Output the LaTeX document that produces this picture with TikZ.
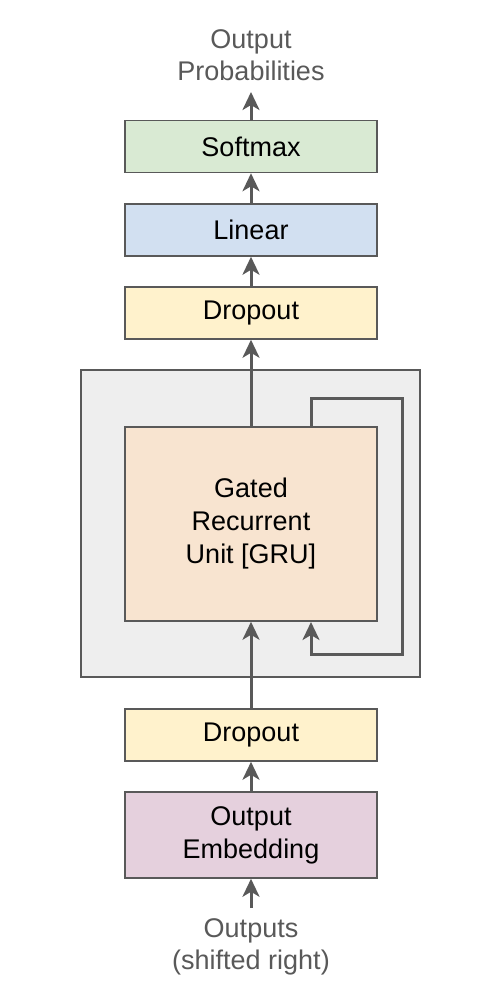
\documentclass[tikz,border=0pt]{standalone}
\usepackage{fontspec}
\setmainfont{Liberation Sans}
\usetikzlibrary{arrows.meta}
\definecolor{ln}{HTML}{595959}
\definecolor{txtg}{HTML}{595959}
\definecolor{cgreen}{HTML}{D9EAD3}
\definecolor{cblue}{HTML}{D2E0F1}
\definecolor{cyellow}{HTML}{FFF2CC}
\definecolor{corange}{HTML}{F8E4D0}
\definecolor{cmag}{HTML}{E5D0DD}
\definecolor{cgrey}{HTML}{EEEEEE}
\tikzset{
  layer/.style={draw=ln, line width=1.5pt, minimum width=252pt, inner sep=0pt, font=\fontsize{27}{33}\selectfont, align=center, text=black},
  lbl/.style={text=txtg, font=\fontsize{27}{32}\selectfont, align=center, inner sep=0pt},
  tip/.style={-{Stealth[length=18pt,width=17pt,inset=5pt]}},
  flow/.style={draw=ln, line width=3pt, tip},
  loop/.style={draw=ln, line width=3pt}
}
\begin{document}
\begin{tikzpicture}[x=1pt,y=-1pt]
\useasboundingbox (0,0) rectangle (500,990);
\node[draw=ln, line width=1.5pt, fill=cgrey, minimum width=339pt, minimum height=307pt, inner sep=0pt] (outer) at (250.5,523.5) {};
\node[lbl] (probs) at (251,55) {Output\\Probabilities};
\node[layer, fill=cgreen, minimum height=52pt] (softmax) at (251,146.5) {Softmax};
\node[layer, fill=cblue, minimum height=52pt] (linear) at (251,230) {Linear};
\node[layer, fill=cyellow, minimum height=52pt] (drop1) at (251,313) {Dropout};
\node[layer, fill=corange, minimum height=194pt] (gru) at (251,524) {Gated\\Recurrent\\Unit [GRU]};
\node[layer, fill=cyellow, minimum height=52pt] (drop2) at (251,735) {Dropout};
\node[layer, fill=cmag, minimum height=86pt] (emb) at (251,835) {Output\\Embedding};
\node[lbl] (outs) at (251,947) {Outputs\\(shifted right)};
\coordinate (top) at (251,92);
\coordinate (bot) at (251,908);
\coordinate (fbA) at (311,427);
\coordinate (fbB) at (311,398);
\coordinate (fbC) at (402,398);
\coordinate (fbD) at (402,654);
\coordinate (fbE) at (311,654);
\coordinate (fbF) at (311,622);
\draw[flow] (softmax.north) -- (top);
\draw[flow] (linear.north) -- (softmax.south);
\draw[flow] (drop1.north) -- (linear.south);
\draw[flow] (gru.north) -- (drop1.south);
\draw[flow] (drop2.north) -- (gru.south);
\draw[flow] (emb.north) -- (drop2.south);
\draw[flow] (bot) -- (emb.south);
\draw[loop, tip] (fbA) -- (fbB) -- (fbC) -- (fbD) -- (fbE) -- (fbF);
\end{tikzpicture}
\end{document}
